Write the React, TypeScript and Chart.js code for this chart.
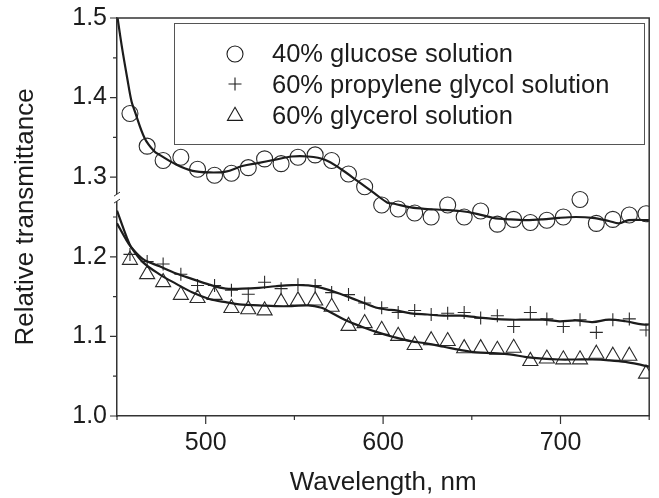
import React, { useEffect, useRef } from 'react';
import { Chart, registerables } from 'chart.js';

Chart.register(...registerables);

// ---- data ----
const pointWavelengths = [
  457.3, 467, 476, 486, 495.4, 505, 514.5, 524, 533.2, 542.5, 552, 561.7, 571, 580.5, 589.6, 599.2,
  608.5, 617.8, 627.1, 636.4, 645.7, 655, 664.4, 673.6, 683, 692.3, 701.6, 711, 720.2, 729.5, 738.8, 748.2,
];
const glucoseValues = [
  1.38, 1.339, 1.321, 1.325, 1.31, 1.3025, 1.305, 1.312, 1.323, 1.317, 1.325, 1.328, 1.321, 1.304, 1.288, 1.265,
  1.26, 1.255, 1.25, 1.265, 1.25, 1.2575, 1.241, 1.247, 1.243, 1.246, 1.25, 1.272, 1.242, 1.247, 1.2525, 1.254,
];
const propyleneValues = [
  1.203, 1.194, 1.191, 1.178, 1.164, 1.164, 1.158, 1.153, 1.168, 1.16, 1.165, 1.164, 1.155, 1.1525, 1.142, 1.136,
  1.13, 1.1325, 1.1275, 1.129, 1.13, 1.123, 1.126, 1.1125, 1.13, 1.122, 1.1125, 1.121, 1.105, 1.121, 1.122, 1.108,
];
const glycerolValues = [
  1.196, 1.178, 1.168, 1.152, 1.148, 1.152, 1.1355, 1.134, 1.1325, 1.143, 1.145, 1.145, 1.137, 1.113, 1.1165, 1.108,
  1.1005, 1.089, 1.095, 1.094, 1.085, 1.085, 1.083, 1.0855, 1.069, 1.072, 1.071, 1.071, 1.078, 1.0755, 1.0755, 1.053,
];

const glucoseFitWavelengths = [
  450, 452.6, 455.8, 458.2, 460, 465.6, 471, 474, 483.3, 492.6, 502, 511.3, 520.6, 530, 539.2, 548.5, 557.8, 567.2,
  576.4, 585.7, 595, 602.5, 606.3, 615.6, 625, 634, 643.5, 652.8, 662, 671.4, 680.7, 690, 699.4, 708.7, 718, 727.3,
  732.9, 738.5, 750,
];
const glucoseFitValues = [
  1.505, 1.466, 1.424, 1.395, 1.383, 1.349, 1.3325, 1.328, 1.316, 1.308, 1.306, 1.307, 1.314, 1.318, 1.322, 1.326,
  1.326, 1.322, 1.31, 1.295, 1.28, 1.268, 1.2667, 1.262, 1.26, 1.259, 1.2575, 1.254, 1.249, 1.247, 1.246, 1.247,
  1.249, 1.25, 1.249, 1.245, 1.242, 1.246, 1.246,
];
const propyleneFitWavelengths = [
  450, 455, 458, 464.7, 474, 483.4, 492.6, 502, 511.3, 520.6, 530, 539.2, 548.5, 557.8, 565.3, 576.4, 585.7, 595,
  602.5, 606.3, 615.6, 625, 634.2, 643.5, 652.8, 662, 671.4, 680.7, 690, 699.4, 708.7, 718, 727.3, 736.6, 746, 750,
];
const propyleneFitValues = [
  1.242, 1.222, 1.212, 1.197, 1.188, 1.179, 1.172, 1.165, 1.16, 1.16, 1.161, 1.163, 1.1645, 1.164, 1.161, 1.153,
  1.145, 1.137, 1.1335, 1.133, 1.129, 1.1275, 1.126, 1.126, 1.124, 1.122, 1.121, 1.121, 1.121, 1.119, 1.12, 1.118,
  1.121, 1.119, 1.115, 1.115,
];
const glycerolFitWavelengths = [
  450, 455.4, 458, 464.7, 474, 483.4, 492.6, 502, 511.3, 520.6, 530, 539.2, 548.5, 557.8, 565.3, 569, 578.3, 587.6,
  597, 606.3, 615.6, 624.9, 634.2, 643.5, 652.8, 662, 671.4, 680.7, 690, 699.4, 708.7, 718, 727.3, 736.6, 746, 750,
];
const glycerolFitValues = [
  1.258, 1.225, 1.212, 1.193, 1.178, 1.166, 1.155, 1.147, 1.143, 1.14, 1.139, 1.138, 1.138, 1.139, 1.136, 1.132,
  1.121, 1.1125, 1.105, 1.099, 1.094, 1.091, 1.087, 1.083, 1.08, 1.079, 1.0775, 1.074, 1.072, 1.071, 1.071, 1.071,
  1.07, 1.068, 1.064, 1.062,
];

const seriesLabels = ['40% glucose solution', '60% propylene glycol solution', '60% glycerol solution'];
const seriesMarkers = ['circle', 'cross', 'triangle'];
const xMajorTicks = [500, 600, 700];
const yMajorTicks = [1.0, 1.1, 1.2, 1.3, 1.4, 1.5];

const FONT = '"Liberation Sans", Arial, Helvetica, sans-serif';
const INK = '#1c1c1c';
const AXIS = '#333333';

const toPoints = (xs: number[], ys: number[]) => xs.map((x, i) => ({ x, y: ys[i] }));

function drawMarker(ctx: CanvasRenderingContext2D, style: string, x: number, y: number) {
  ctx.save();
  ctx.strokeStyle = INK;
  ctx.lineWidth = 1.1;
  ctx.beginPath();
  if (style === 'circle') {
    ctx.arc(x, y, 8, 0, Math.PI * 2);
  } else if (style === 'cross') {
    ctx.moveTo(x - 6.5, y);
    ctx.lineTo(x + 6.5, y);
    ctx.moveTo(x, y - 6.5);
    ctx.lineTo(x, y + 6.5);
  } else {
    const r = 8.7;
    ctx.moveTo(x, y - r);
    ctx.lineTo(x + r * Math.sin((2 * Math.PI) / 3), y - r * Math.cos((2 * Math.PI) / 3));
    ctx.lineTo(x + r * Math.sin((4 * Math.PI) / 3), y - r * Math.cos((4 * Math.PI) / 3));
    ctx.closePath();
  }
  ctx.stroke();
  ctx.restore();
}

const decorPlugin = {
  id: 'decor',
  afterDraw(chart: any) {
    const { ctx, chartArea } = chart;
    const { left, right, top, bottom } = chartArea;
    const xs = chart.scales.x;
    const ys = chart.scales.y;
    ctx.save();
    // frame top & right
    ctx.strokeStyle = AXIS;
    ctx.lineWidth = 1.5;
    ctx.beginPath();
    ctx.moveTo(left, top);
    ctx.lineTo(right, top);
    ctx.lineTo(right, bottom);
    ctx.stroke();
    // tick marks
    ctx.lineWidth = 1.2;
    ctx.beginPath();
    ys.ticks.forEach((t: any) => {
      const py = ys.getPixelForValue(t.value);
      const major = yMajorTicks.some((m) => Math.abs(m - t.value) < 1e-6);
      ctx.moveTo(left - (major ? 7 : 4), py);
      ctx.lineTo(left, py);
    });
    xs.ticks.forEach((t: any) => {
      const px = xs.getPixelForValue(t.value);
      const major = xMajorTicks.includes(Math.round(t.value));
      ctx.moveTo(px, bottom);
      ctx.lineTo(px, bottom + (major ? 8 : 4));
    });
    ctx.stroke();
    // axis break mark on the y axis
    const by = ys.getPixelForValue(1.275);
    ctx.fillStyle = '#ffffff';
    ctx.fillRect(left - 3, by - 3, 6, 7);
    ctx.beginPath();
    ctx.lineWidth = 1;
    ctx.moveTo(left - 3, by - 1);
    ctx.lineTo(left + 3, by - 5);
    ctx.moveTo(left - 3, by + 6);
    ctx.lineTo(left + 3, by + 2);
    ctx.stroke();
    // legend box
    const lx = left + 57;
    const ly = top + 5;
    ctx.strokeStyle = '#555';
    ctx.lineWidth = 1;
    ctx.strokeRect(lx + 0.5, ly + 0.5, 470, 121);
    ctx.fillStyle = INK;
    ctx.font = `25.5px ${FONT}`;
    ctx.textBaseline = 'alphabetic';
    ctx.textAlign = 'left';
    const markerY = [36, 66, 98];
    const textY = [44, 75, 106];
    seriesLabels.forEach((label, i) => {
      drawMarker(ctx, seriesMarkers[i], left + 118, top + markerY[i]);
      ctx.fillText(label, left + 155, top + textY[i]);
    });
    ctx.restore();
  },
};

export default function App() {
  const canvasRef = useRef<HTMLCanvasElement | null>(null);

  useEffect(() => {
    if (!canvasRef.current) return;
    const lineDs = (xs: number[], ys: number[]) => ({
      type: 'line' as const,
      data: toPoints(xs, ys),
      borderColor: INK,
      borderWidth: 2.2,
      pointRadius: 0,
      showLine: true,
      fill: false,
      tension: 0.35,
    });
    const pointDs = (ys: number[], style: string, radius: number) => ({
      type: 'scatter' as const,
      data: toPoints(pointWavelengths, ys),
      pointStyle: style,
      pointRadius: radius,
      pointBorderColor: '#2a2a2a',
      pointBackgroundColor: 'rgba(0,0,0,0)',
      pointBorderWidth: 1.1,
      showLine: false,
    });
    const chart = new Chart(canvasRef.current, {
      type: 'scatter',
      data: {
        datasets: [
          lineDs(glucoseFitWavelengths, glucoseFitValues),
          lineDs(propyleneFitWavelengths, propyleneFitValues),
          lineDs(glycerolFitWavelengths, glycerolFitValues),
          pointDs(glucoseValues, 'circle', 8),
          pointDs(propyleneValues, 'cross', 6.5),
          pointDs(glycerolValues, 'triangle', 8.7),
        ] as any,
      },
      options: {
        responsive: false,
        animation: false,
        layout: { padding: { top: 16, right: 4, left: 0, bottom: 0 } },
        plugins: { legend: { display: false }, tooltip: { enabled: false } },
        scales: {
          x: {
            type: 'linear',
            min: 450,
            max: 750,
            afterFit: (s: any) => {
              s.height = 82;
            },
            ticks: {
              stepSize: 50,
              padding: 4,
              maxRotation: 0,
              autoSkip: false,
              color: INK,
              font: { family: FONT, size: 25 },
              callback: (v: any) => (xMajorTicks.includes(Math.round(Number(v))) ? String(Math.round(Number(v))) : ''),
            },
            grid: { display: false, drawTicks: true, tickLength: 8 },
            border: { display: true, color: AXIS, width: 1.5 },
            title: {
              display: true,
              text: 'Wavelength, nm',
              color: INK,
              font: { family: FONT, size: 26 },
              padding: { top: 0, bottom: 0 },
            },
          },
          y: {
            type: 'linear',
            min: 1.0,
            max: 1.5,
            afterFit: (s: any) => {
              s.width = 117;
            },
            ticks: {
              stepSize: 0.05,
              padding: 3,
              autoSkip: false,
              color: INK,
              font: { family: FONT, size: 25 },
              callback: (v: any) => {
                const n = Number(v);
                return yMajorTicks.some((m) => Math.abs(m - n) < 1e-6) ? n.toFixed(1) : '';
              },
            },
            grid: { display: false, drawTicks: true, tickLength: 7 },
            border: { display: true, color: AXIS, width: 1.5 },
            title: {
              display: true,
              text: 'Relative transmittance',
              color: INK,
              font: { family: FONT, size: 26 },
              padding: { top: 10, bottom: 0 },
            },
          },
        },
      },
      plugins: [decorPlugin],
    } as any);
    return () => chart.destroy();
  }, []);

  return (
    <div style={{ position: 'absolute', left: 0, top: 0, width: 659, height: 498, background: '#fff' }}>
      <canvas ref={canvasRef} width={659} height={498} style={{ display: 'block' }} />
    </div>
  );
}
